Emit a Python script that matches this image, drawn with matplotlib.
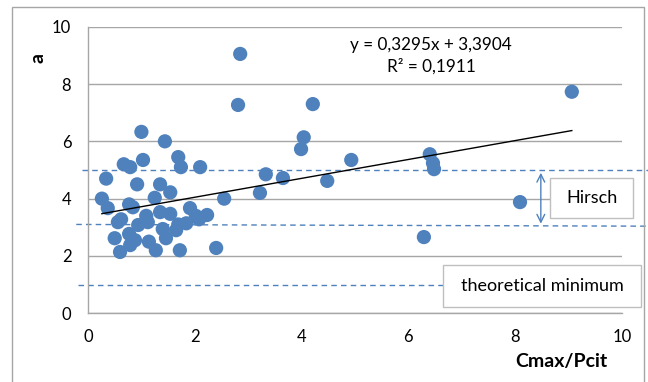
import matplotlib
matplotlib.use("Agg")
import matplotlib.pyplot as plt
from matplotlib.patches import Rectangle

plt.rcParams['font.family'] = ['Lato', 'DejaVu Sans']

# Data
cmax_pcit = [0.26, 0.34, 0.37, 0.56, 0.62, 0.50, 0.60, 0.67, 0.79, 0.77, 0.84, 0.77, 0.88, 0.79,
             0.94, 0.92, 1.00, 1.03, 1.09, 1.12, 1.14, 1.25, 1.27, 1.35, 1.35, 1.44, 1.40, 1.46,
             1.54, 1.54, 1.69, 1.74, 1.65, 1.69, 1.72, 1.84, 1.91, 2.02, 2.08, 2.10, 2.23, 2.40,
             2.55, 2.85, 2.81, 3.22, 3.33, 3.65, 3.99, 4.04, 4.21, 4.48, 4.93, 6.40, 6.46, 6.48,
             6.29, 8.09, 9.06]
a_vals = [4.00, 4.70, 3.67, 3.18, 3.28, 2.62, 2.14, 5.20, 5.10, 3.80, 3.70, 2.77, 2.55, 2.38,
          3.08, 4.50, 6.33, 5.35, 3.40, 3.18, 2.50, 4.03, 2.20, 4.50, 3.53, 6.00, 2.94, 2.62,
          4.22, 3.47, 5.45, 5.10, 2.90, 3.10, 2.20, 3.14, 3.67, 3.40, 3.28, 5.10, 3.43, 2.28,
          4.00, 9.05, 7.27, 4.20, 4.85, 4.72, 5.73, 6.14, 7.30, 4.62, 5.35, 5.55, 5.24, 5.03,
          2.66, 3.88, 7.73]

slope = 0.3295
intercept = 3.3904
r_squared = 0.1911

hirsch_upper = 5.0
hirsch_lower = 3.1
theoretical_min = 1.0

x_ticks = [0, 2, 4, 6, 8, 10]
y_ticks = [0, 2, 4, 6, 8, 10]

blue = '#4F81BD'
grid_gray = '#A6A6A6'

fig = plt.figure(figsize=(6.48, 3.82), dpi=100)
ax = fig.add_axes([88/648, 1-313.3/382, (622-88)/648, (313.3-26.7)/382])

# outer chart border
fig.patches.append(Rectangle((12/648, -0.05), (644-12)/648, 1.05-7/382,
                             transform=fig.transFigure, fill=False,
                             edgecolor='#A6A6A6', linewidth=1.0))

ax.set_xlim(0, 10)
ax.set_ylim(0, 10)
ax.set_xticks(x_ticks)
ax.set_yticks(y_ticks)
ax.yaxis.grid(True, color=grid_gray, linewidth=1.0)
ax.set_axisbelow(True)
for s in ['top', 'right']:
    ax.spines[s].set_visible(False)
for s in ['left', 'bottom']:
    ax.spines[s].set_color(grid_gray)
    ax.spines[s].set_linewidth(1.0)
ax.tick_params(length=0, labelsize=12, colors='black')
ax.tick_params(axis='y', pad=12)
ax.tick_params(axis='x', pad=11)

# dashed reference lines extending beyond the plot area
ax.plot([-0.11, 10.5], [hirsch_upper, hirsch_upper], ls=(0, (4, 3)), color=blue, lw=1.0, clip_on=False, zorder=1)
ax.plot([-0.22, 10.5], [hirsch_lower, hirsch_lower - 0.06], ls=(0, (4, 3)), color=blue, lw=1.0, clip_on=False, zorder=1)
ax.plot([-0.19, 6.65], [theoretical_min, theoretical_min], ls=(0, (4, 3)), color=blue, lw=1.0, clip_on=False, zorder=1)

# scatter
ax.scatter(cmax_pcit, a_vals, s=105, color=blue, edgecolors='none', zorder=3)

# trend line
x0, x1 = min(cmax_pcit), max(cmax_pcit)
ax.plot([x0, x1], [slope*x0 + intercept, slope*x1 + intercept], color='black', lw=1.0, zorder=4)

ax.text(6.43, 8.98, 'y = 0,3295x + 3,3904\nR² = 0,1911', ha='center', va='center',
        fontsize=12.3, linespacing=1.35)

# Hirsch arrow and box
ax.annotate('', xy=(8.48, hirsch_upper), xytext=(8.48, 3.03),
            arrowprops=dict(arrowstyle='<->', color=blue, lw=1.0, mutation_scale=14),
            annotation_clip=False)
ax.add_patch(Rectangle((8.65, 3.32), 1.55, 1.40, facecolor='white', edgecolor='#BFBFBF',
                       lw=1.0, clip_on=False, zorder=5))
ax.text(9.43, 4.02, 'Hirsch', ha='center', va='center', fontsize=13, zorder=6)

ax.add_patch(Rectangle((6.65, 0.22), 3.71, 1.46, facecolor='white', edgecolor='#BFBFBF',
                       lw=1.0, clip_on=False, zorder=5))
ax.text(8.5, 0.95, 'theoretical minimum', ha='center', va='center', fontsize=13, zorder=6)

fig.text(38/648, 1-58/382, 'a', rotation=90, ha='center', va='center', fontsize=14, fontweight='bold')
fig.text(608/648, 1-362/382, 'Cmax/Pcit', ha='right', va='center', fontsize=14, fontweight='bold')

fig.savefig('out.png', dpi=100)
